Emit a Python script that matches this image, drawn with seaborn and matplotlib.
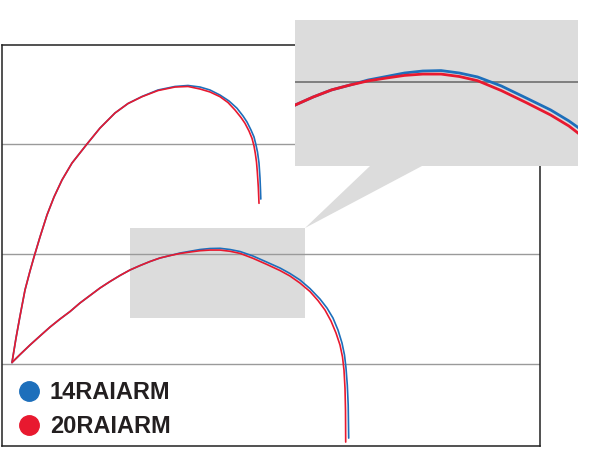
import matplotlib
matplotlib.use("Agg")
import matplotlib.pyplot as plt
import seaborn as sns
import pandas as pd
from matplotlib.lines import Line2D
from matplotlib.patches import Rectangle, Polygon

sns.set_style("white")
plt.rcParams['font.family'] = ['Liberation Sans', 'DejaVu Sans']

# ---- data (arbitrary units) ----
series_names = ["14RAIARM", "20RAIARM"]
series_colors = ["#1d6fbb", "#e8192f"]

# tall curve
upper_blue_x = [0, 0.8, 1.6, 2.6, 3.6, 4.4, 5.6, 7.0, 8.4, 10.0, 12.0, 15.0, 17.6, 20.6, 23.2, 26.0,
                29.2, 32.6, 35.2, 37.6, 39.6, 41.6, 43.4, 45.0, 46.2, 47.0, 47.8, 48.4, 48.8, 49.1,
                49.4, 49.6, 49.7, 49.76]
upper_blue_y = [1.4, 23.6, 43.6, 67.3, 84.5, 97.3, 115.5, 135.5, 151.8, 167.3, 182.7, 200.0, 214.5,
                228.2, 236.8, 243.2, 249.1, 252.3, 253.2, 251.8, 249.1, 244.5, 239.1, 232.5, 225.5,
                220.0, 212.7, 206.4, 199.1, 192.7, 182.7, 169.1, 158.2, 150.0]
upper_red_x = [0, 0.8, 1.6, 2.6, 3.6, 4.4, 5.6, 7.0, 8.4, 10.0, 12.0, 15.0, 17.6, 20.6, 23.2, 26.0,
               29.2, 32.6, 35.2, 37.6, 39.6, 41.6, 43.2, 44.6, 45.8, 46.6, 47.4, 48.0, 48.4, 48.66,
               48.9, 49.06, 49.26, 49.4]
upper_red_y = [1.4, 23.6, 43.6, 67.3, 84.5, 97.3, 115.5, 135.5, 151.8, 167.3, 182.7, 200.0, 214.5,
               228.2, 236.8, 243.0, 248.6, 251.8, 252.3, 250.0, 247.3, 243.0, 237.7, 230.9, 224.1,
               218.8, 211.8, 205.2, 198.2, 191.5, 183.6, 174.8, 160.9, 146.1]

# long curve
lower_blue_x = [0, 1.6, 3.6, 5.6, 7.6, 9.6, 11.6, 13.6, 15.6, 17.6, 19.6, 21.6, 23.6, 25.6, 27.6,
                29.6, 31.6, 33.6, 35.6, 37.6, 39.6, 41.6, 43.6, 45.6, 48.2, 50.94, 53.6, 55.6, 57.6,
                59.6, 61.6, 63.0, 64.2, 65.2, 66.0, 66.5, 66.8, 67.06, 67.24, 67.34]
lower_blue_y = [1.4, 8.6, 17.3, 25.5, 33.6, 40.9, 47.7, 55.5, 62.3, 69.1, 75.0, 80.5, 85.5, 89.5,
                93.2, 96.4, 98.6, 100.9, 102.5, 104.1, 105.0, 105.2, 104.1, 102.3, 98.2, 92.7, 87.3,
                82.3, 76.4, 68.6, 59.1, 50.9, 41.8, 30.9, 19.1, 8.2, -3.6, -19.1, -37.3, -67.3]
lower_red_x = [0, 1.6, 3.6, 5.6, 7.6, 9.6, 11.6, 13.6, 15.6, 17.6, 19.6, 21.6, 23.6, 25.6, 27.6,
               29.6, 31.6, 33.6, 35.6, 37.6, 39.6, 41.6, 43.6, 45.6, 48.2, 50.94, 53.6, 55.6, 57.6,
               59.6, 61.2, 62.6, 63.8, 64.8, 65.6, 66.1, 66.4, 66.6, 66.7, 66.74]
lower_red_y = [1.4, 8.6, 17.3, 25.5, 33.6, 40.9, 47.7, 55.5, 62.3, 69.1, 75.0, 80.5, 85.5, 89.5,
               93.2, 96.4, 98.6, 100.5, 101.8, 103.0, 103.6, 103.6, 102.5, 100.6, 96.1, 90.6, 85.0,
               80.0, 73.6, 65.9, 57.7, 49.1, 39.1, 28.2, 17.3, 6.4, -5.5, -21.8, -41.8, -70.9]

grid_values = [0, 100, 200]

curves = [
    (upper_blue_x, upper_blue_y, 0),
    (upper_red_x, upper_red_y, 1),
    (lower_blue_x, lower_blue_y, 0),
    (lower_red_x, lower_red_y, 1),
]

W, H = 600, 450
fig = plt.figure(figsize=(6, 4.5), dpi=100)

def fx(px):
    return px / W

def fy(py):
    return 1 - py / H

ax = fig.add_axes([fx(2), fy(446), 538 / W, 401 / H])
ax.set_xlim(-2, 105.6)
ax.set_ylim(-74.5, 290)
ax.set_yticks(grid_values)
ax.set_xticks([])
ax.tick_params(length=0, labelleft=False, labelbottom=False)
ax.grid(False)
for v in grid_values:
    ax.axhline(v, color="#9a9a9a", lw=1.0, zorder=1)
for s in ax.spines.values():
    s.set_color("#222222")
    s.set_linewidth(1.1)

# zoom region box
ax.add_patch(Rectangle((23.6, 41.8), 35.0, 81.8, facecolor="#dcdcdc", edgecolor="none", zorder=0.5))

for xs, ys, si in curves:
    df = pd.DataFrame({"x": xs, "y": ys})
    sns.lineplot(data=df, x="x", y="y", sort=False, estimator=None, color=series_colors[si],
                 lw=1.2, ax=ax, zorder=3)
ax.set_xlabel("")
ax.set_ylabel("")

# connector wedge
fig.patches.append(Polygon([(fx(305), fy(228)), (fx(370), fy(166)), (fx(422), fy(166))],
                           closed=True, transform=fig.transFigure, facecolor="#dcdcdc",
                           edgecolor="none", zorder=5))

# inset
axi = fig.add_axes([fx(295), fy(166), 283 / W, 146 / H], zorder=6)
axi.set_facecolor("#dcdcdc")
axi.set_xlim(25.6, 56.6)
axi.set_ylim(61.8, 128.2)
axi.set_xticks([])
axi.set_yticks([])
for s in axi.spines.values():
    s.set_visible(False)
axi.axhline(100, color="#666666", lw=1.1, zorder=1)
for xs, ys, si in curves:
    df = pd.DataFrame({"x": xs, "y": ys})
    sns.lineplot(data=df, x="x", y="y", sort=False, estimator=None, color=series_colors[si],
                 lw=2.0, ax=axi, zorder=3)
axi.set_xlabel("")
axi.set_ylabel("")

# legend
handles = [Line2D([], [], marker="o", linestyle="none", markersize=14,
                  markerfacecolor=c, markeredgecolor=c) for c in series_colors]
leg = ax.legend(handles, series_names, loc="upper left", bbox_to_anchor=(fx(5), fy(369)),
                bbox_transform=fig.transFigure, frameon=False, borderpad=0,
                handlelength=1.0, handletextpad=0.4, labelspacing=0.47,
                prop={"family": "Liberation Sans", "weight": "bold", "size": 17})
for t in leg.get_texts():
    t.set_color("#231f20")

fig.savefig("out.png", dpi=100)
